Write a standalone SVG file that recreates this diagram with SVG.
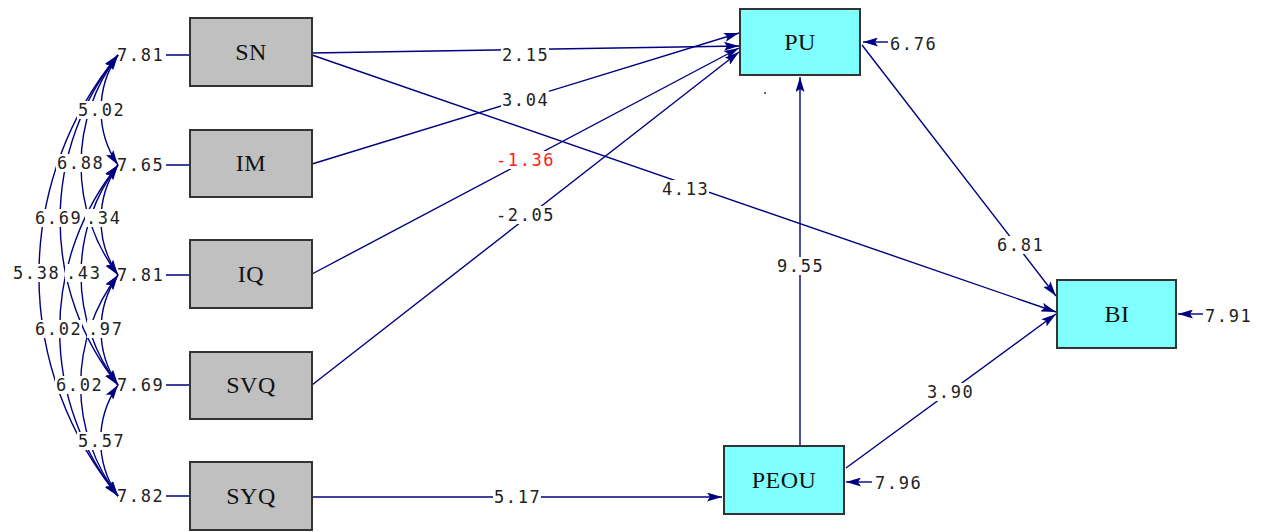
<svg xmlns="http://www.w3.org/2000/svg" width="1262" height="532" viewBox="0 0 1262 532">
  <defs>
    <style>
      .box{stroke:#333;stroke-width:2}
      .exo{fill:#c0c0c0}
      .endo{fill:#80ffff}
      .name{font-family:"Liberation Serif",serif;font-size:24px;text-anchor:middle;fill:#111;letter-spacing:0.5px}
      .num{font-family:"DejaVu Sans Mono",monospace;font-size:17px;fill:#222;letter-spacing:1.6px}
      .neg{fill:#ff2020}
      .edge{stroke:#000080;stroke-width:1.4;fill:none}
      .arrow{marker-end:url(#ah)}
      .cov{marker-start:url(#ah);marker-end:url(#ah)}
      .bg{fill:#fff}
    </style>
    <marker id="ah" viewBox="0 0 15 9" refX="15" refY="4.5" markerWidth="15" markerHeight="9" markerUnits="userSpaceOnUse" orient="auto-start-reverse">
      <path d="M0,0 L15,4.5 L0,9 L3,4.5 z" fill="#000080"/>
    </marker>
  </defs>
  <rect width="1262" height="532" fill="#fff"/>

  <!-- connectors -->
  <g id="connectors">
    <!-- covariances among the exogenous variables -->
    <path class="edge cov" d="M118,55 A97.5,97.5 0 0 0 118,165"/>
    <path class="edge cov" d="M118,55 A182,182 0 0 0 118,275"/>
    <path class="edge cov" d="M118,55 A264,264 0 0 0 118,385"/>
    <path class="edge cov" d="M118,55 A347,347 0 0 0 118,496"/>
    <path class="edge cov" d="M118,165 A97.5,97.5 0 0 0 118,275"/>
    <path class="edge cov" d="M118,165 A182,182 0 0 0 118,385"/>
    <path class="edge cov" d="M118,165 A264,264 0 0 0 118,496"/>
    <path class="edge cov" d="M118,275 A97.5,97.5 0 0 0 118,385"/>
    <path class="edge cov" d="M118,275 A182,182 0 0 0 118,496"/>
    <path class="edge cov" d="M118,385 A97.5,97.5 0 0 0 118,496"/>

    <!-- variance ticks of the exogenous variables -->
    <path class="edge" d="M166,55 H190 M166,165 H190 M166,275 H190 M166,385 H190 M166,496 H190"/>

    <!-- structural paths -->
    <path class="edge arrow" d="M312,53 L739,46"/>
    <path class="edge arrow" d="M312,164 L739,33"/>
    <path class="edge arrow" d="M312,274 L739,48"/>
    <path class="edge arrow" d="M312,385 L739,52"/>
    <path class="edge arrow" d="M312,55 L1056,312"/>
    <path class="edge arrow" d="M862,45 L1056,296"/>
    <path class="edge arrow" d="M846,468 L1056,314"/>
    <path class="edge arrow" d="M800,446 L800,77"/>
    <path class="edge arrow" d="M312,497 L722,497"/>

    <!-- error terms of the endogenous variables -->
    <path class="edge arrow" d="M888,42 L863,42"/>
    <path class="edge arrow" d="M1203,314 L1178,314"/>
    <path class="edge arrow" d="M872,482 L846,482"/>
  </g>

  <!-- coefficient labels -->
  <g id="labels">
    <rect class="bg" x="501" y="46" width="48" height="18"/>
    <text class="num" x="502" y="61">2.15</text>
    <rect class="bg" x="501" y="91" width="48" height="18"/>
    <text class="num" x="502" y="106">3.04</text>
    <rect class="bg" x="495" y="151" width="60" height="18"/>
    <text class="num neg" x="496" y="166">-1.36</text>
    <rect class="bg" x="495" y="206" width="60" height="18"/>
    <text class="num" x="496" y="221">-2.05</text>
    <rect class="bg" x="661" y="180" width="48" height="18"/>
    <text class="num" x="662" y="195">4.13</text>
    <rect class="bg" x="996" y="236" width="48" height="18"/>
    <text class="num" x="997" y="251">6.81</text>
    <rect class="bg" x="776" y="257" width="48" height="18"/>
    <text class="num" x="777" y="272">9.55</text>
    <rect class="bg" x="926" y="383" width="48" height="18"/>
    <text class="num" x="927" y="398">3.90</text>
    <rect class="bg" x="493" y="488" width="48" height="18"/>
    <text class="num" x="494" y="503">5.17</text>

    <text class="num" x="890" y="50">6.76</text>
    <text class="num" x="1205" y="322">7.91</text>
    <text class="num" x="875" y="489">7.96</text>

    <text class="num" x="117" y="61">7.81</text>
    <text class="num" x="117" y="171">7.65</text>
    <text class="num" x="117" y="281">7.81</text>
    <text class="num" x="117" y="391">7.69</text>
    <text class="num" x="117" y="502">7.82</text>

    <rect class="bg" x="77" y="101" width="46" height="18"/>
    <text class="num" x="78" y="116">5.02</text>
    <rect class="bg" x="56" y="154" width="47" height="18"/>
    <text class="num" x="57" y="169">6.88</text>
    <rect class="bg" x="34" y="209" width="46" height="18"/>
    <text class="num" x="35" y="224">6.69</text>
    <rect class="bg" x="85" y="209" width="36" height="18"/>
    <text class="num" x="86" y="224">.34</text>
    <rect class="bg" x="12" y="264" width="48" height="18"/>
    <text class="num" x="13" y="279">5.38</text>
    <rect class="bg" x="65" y="264" width="37" height="18"/>
    <text class="num" x="66" y="279">.43</text>
    <rect class="bg" x="34" y="320" width="48" height="18"/>
    <text class="num" x="35" y="335">6.02</text>
    <rect class="bg" x="87" y="320" width="35" height="18"/>
    <text class="num" x="88" y="335">.97</text>
    <rect class="bg" x="55" y="376" width="48" height="18"/>
    <text class="num" x="56" y="391">6.02</text>
    <rect class="bg" x="77" y="432" width="46" height="18"/>
    <text class="num" x="78" y="447">5.57</text>
  </g>

  <!-- exogenous variables -->
  <g id="SN">
    <rect class="box exo" x="190" y="18" width="122" height="68"/>
    <text class="name" x="251" y="60">SN</text>
  </g>
  <g id="IM">
    <rect class="box exo" x="190" y="130" width="122" height="67"/>
    <text class="name" x="251" y="171">IM</text>
  </g>
  <g id="IQ">
    <rect class="box exo" x="190" y="240" width="122" height="68"/>
    <text class="name" x="251" y="282">IQ</text>
  </g>
  <g id="SVQ">
    <rect class="box exo" x="190" y="352" width="122" height="67"/>
    <text class="name" x="251" y="393">SVQ</text>
  </g>
  <g id="SYQ">
    <rect class="box exo" x="190" y="462" width="122" height="68"/>
    <text class="name" x="251" y="504">SYQ</text>
  </g>

  <!-- endogenous variables -->
  <g id="PU">
    <rect class="box endo" x="740" y="9" width="120" height="66"/>
    <text class="name" x="800" y="50">PU</text>
  </g>
  <g id="BI">
    <rect class="box endo" x="1057" y="280" width="119" height="68"/>
    <text class="name" x="1117" y="322">BI</text>
  </g>
  <g id="PEOU">
    <rect class="box endo" x="724" y="446" width="120" height="68"/>
    <text class="name" x="784" y="488">PEOU</text>
  </g>

  <circle cx="765" cy="93" r="1" fill="#333"/>
</svg>
